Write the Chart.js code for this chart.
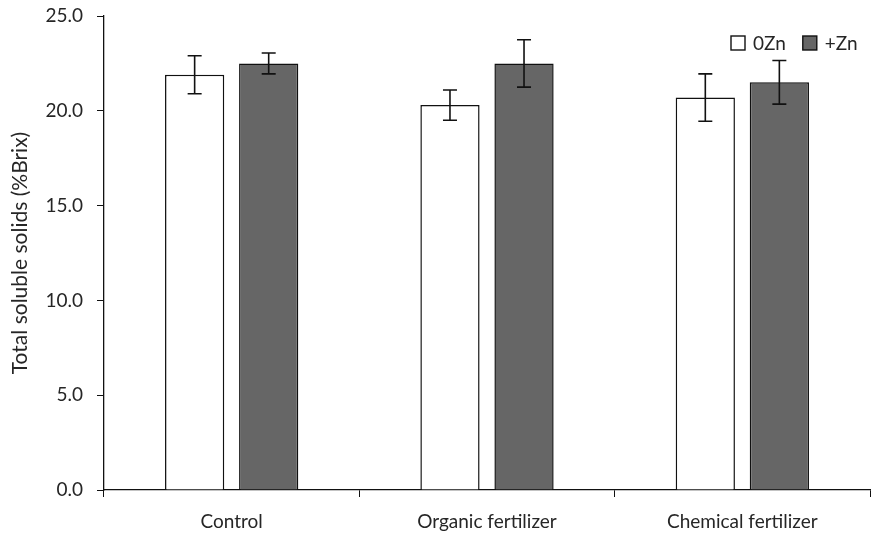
<!DOCTYPE html>
<html>
<head>
<meta charset="utf-8">
<script src="https://cdn.jsdelivr.net/npm/chart.js@4"></script>
<style>
  html, body { margin: 0; padding: 0; background: #fff; }
  #wrap { width: 871px; height: 534px; }
</style>
</head>
<body>
<div id="wrap"><canvas id="chart" width="871" height="534"></canvas></div>
<script>
// Data
const categories = ['Control', 'Organic fertilizer', 'Chemical fertilizer'];
const zn0 = [21.9, 20.3, 20.7];
const zn0Err = [1.0, 0.8, 1.25];
const znPlus = [22.5, 22.5, 21.5];
const znPlusErr = [0.55, 1.25, 1.15];
const yTicks = [0, 5, 10, 15, 20, 25];

const FONT = 'Lato, "Open Sans", sans-serif';
const TEXT = '#262626';

// error bars drawn with the library's scales
const errorBars = {
    id: 'errorBars',
    afterDatasetsDraw(chart) {
        const ctx = chart.ctx;
        const y = chart.scales.y;
        ctx.save();
        ctx.strokeStyle = '#111';
        ctx.lineWidth = 1.6;
        chart.data.datasets.forEach((ds, i) => {
            const meta = chart.getDatasetMeta(i);
            meta.data.forEach((bar, j) => {
                const v = ds.data[j], e = ds.errors[j];
                const top = y.getPixelForValue(v + e);
                const bot = y.getPixelForValue(v - e);
                const x = bar.x;
                ctx.beginPath();
                ctx.moveTo(x, top); ctx.lineTo(x, bot);
                ctx.moveTo(x - 7, top); ctx.lineTo(x + 7, top);
                ctx.moveTo(x - 7, bot); ctx.lineTo(x + 7, bot);
                ctx.stroke();
            });
        });
        ctx.restore();
    }
};

// small legend inside the plot, top right
const innerLegend = {
    id: 'innerLegend',
    afterDraw(chart) {
        const ctx = chart.ctx;
        const area = chart.chartArea;
        ctx.save();
        ctx.font = '19px ' + FONT;
        ctx.textBaseline = 'middle';
        let x = 731;
        const yMid = area.top + 27;
        chart.data.datasets.forEach(ds => {
            ctx.fillStyle = ds.backgroundColor;
            ctx.strokeStyle = '#111';
            ctx.lineWidth = 1.4;
            ctx.fillRect(x, yMid - 7, 14, 14);
            ctx.strokeRect(x, yMid - 7, 14, 14);
            ctx.fillStyle = TEXT;
            ctx.fillText(ds.label, x + 22, yMid + 1);
            x += 22 + ctx.measureText(ds.label).width + 17;
        });
        ctx.restore();
    }
};

new Chart(document.getElementById('chart'), {
    type: 'bar',
    data: {
        labels: categories,
        datasets: [
            { label: '0Zn', data: zn0, errors: zn0Err, backgroundColor: '#ffffff', borderColor: '#111', borderWidth: 1.5 },
            { label: '+Zn', data: znPlus, errors: znPlusErr, backgroundColor: '#666666', borderColor: '#111', borderWidth: 1.5 }
        ]
    },
    options: {
        responsive: false,
        animation: false,
        categoryPercentage: 0.58,
        barPercentage: 0.8,
        layout: { padding: { top: 16, right: 1, left: 0, bottom: 0 } },
        plugins: {
            legend: { display: false },
            tooltip: { enabled: false }
        },
        scales: {
            x: {
                grid: { display: true, offset: true, drawOnChartArea: false, tickLength: 7, color: '#111' },
                border: { color: '#111', width: 1.3 },
                ticks: { color: TEXT, font: { family: FONT, size: 19 }, padding: 13 },
                afterFit(scale) { scale.height = 44; }
            },
            y: {
                min: 0,
                max: 25,
                afterBuildTicks(scale) { scale.ticks = yTicks.map(v => ({ value: v })); },
                grid: { drawOnChartArea: false, tickLength: 7, color: '#111' },
                border: { color: '#111', width: 1.3 },
                ticks: {
                    color: TEXT,
                    font: { family: FONT, size: 19 },
                    padding: 14,
                    callback: v => Number(v).toFixed(1)
                },
                title: {
                    display: true,
                    text: 'Total soluble solids (%Brix)',
                    color: TEXT,
                    font: { family: FONT, size: 21 },
                    padding: { top: 8, bottom: 4 }
                },
                afterFit(scale) {
                    scale.width = 104;
                    scale.paddingTop = 0;
                    scale.paddingBottom = 0;
                }
            }
        }
    },
    plugins: [errorBars, innerLegend]
});
</script>
</body>
</html>
